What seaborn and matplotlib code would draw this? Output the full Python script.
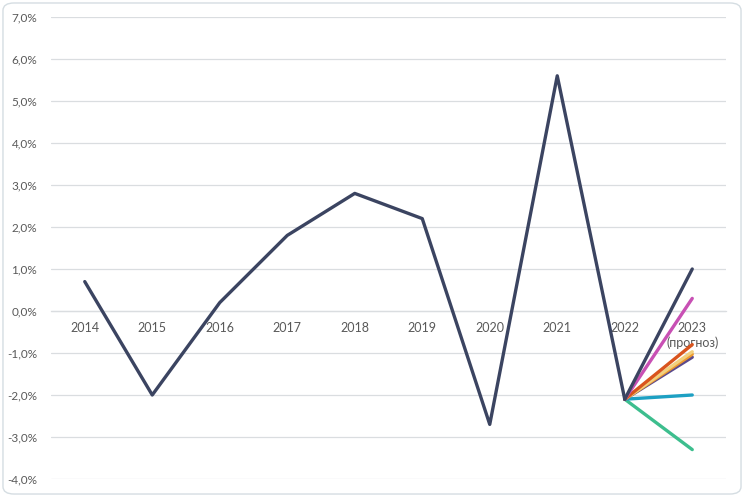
import numpy as np
import pandas as pd
import matplotlib.pyplot as plt
import seaborn as sns
from matplotlib.patches import FancyBboxPatch

# --- data ---
years = ["2014", "2015", "2016", "2017", "2018", "2019", "2020", "2021", "2022", "2023\n(прогноз)"]
growth = [0.7, -2.0, 0.2, 1.8, 2.8, 2.2, -2.7, 5.6, -2.1]
base_2022 = -2.1
scenarios_2023 = [1.0, 0.3, -0.8, -0.97, -1.03, -1.1, -2.0, -3.3]
scenario_colors = ["#3B4461", "#C850B4", "#D9541E", "#F2D07E", "#EE9B2E", "#5B4A8C", "#1DA0C3", "#3DBE8E"]
y_ticks = [-4, -3, -2, -1, 0, 1, 2, 3, 4, 5, 6, 7]

sns.set_theme(style="white")
plt.rcParams['font.family'] = ['Lato', 'DejaVu Sans']

fig = plt.figure(figsize=(7.44, 4.97), dpi=100)
ax = fig.add_axes([51 / 744, 1 - 479 / 497, 675 / 744, 462 / 497])

# rounded frame around the chart
frame = FancyBboxPatch((0.004, 0.006), 0.992, 0.988, boxstyle="round,pad=0,rounding_size=0.015",
                       transform=fig.transFigure, fc="none", ec="#D5DDE2", lw=1.0)
fig.patches.append(frame)

main_df = pd.DataFrame({'x': np.arange(len(growth)), 'y': growth})
sns.lineplot(data=main_df, x='x', y='y', ax=ax, color="#3B4461", lw=2.4, zorder=5)

# fan of 2023 forecast scenarios (drawn last-to-first so upper lines sit on top)
i22 = len(growth) - 1
for val, col in list(zip(scenarios_2023, scenario_colors))[::-1]:
    seg = pd.DataFrame({'x': [i22, i22 + 1], 'y': [base_2022, val]})
    sns.lineplot(data=seg, x='x', y='y', ax=ax, color=col, lw=2.4, zorder=4)

ax.set_xlim(-0.5, len(years) - 0.5)
ax.set_ylim(-4, 7)
ax.set_yticks(y_ticks)
ax.set_yticklabels([f"{v:.1f}%".replace('.', ',') for v in y_ticks])
ax.set_xticks(np.arange(len(years)))
ax.set_xticklabels(years, linespacing=1.1)
ax.grid(axis='y', color="#DADDE0", lw=0.9)
ax.set_axisbelow(True)

for s in ['top', 'right', 'left']:
    ax.spines[s].set_visible(False)
ax.spines['bottom'].set_position(('data', 0))
ax.spines['bottom'].set_color("#DADDE0")
ax.spines['bottom'].set_linewidth(0.9)
ax.tick_params(axis='x', length=0, pad=8, labelsize=9, labelcolor="#595959")
ax.tick_params(axis='y', length=0, pad=10, labelsize=8.5, labelcolor="#595959")
ax.set_xlabel("")
ax.set_ylabel("")

fig.savefig("out.png", dpi=100)
